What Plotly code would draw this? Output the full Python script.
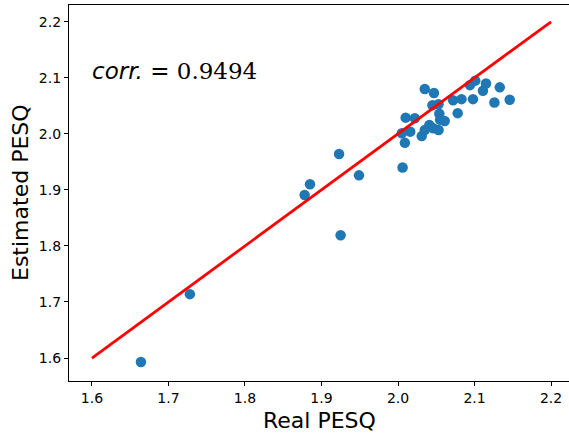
import plotly.graph_objects as go

real_pesq = [1.664, 1.728, 1.923, 1.885, 1.878, 1.949, 1.925, 2.006, 2.009,
             2.035, 2.047, 2.045, 2.053, 2.010, 2.022, 2.016, 2.005, 2.031,
             2.035, 2.041, 2.046, 2.054, 2.055, 2.061, 2.053, 2.072, 2.083,
             2.078, 2.098, 2.094, 2.101, 2.111, 2.115, 2.133, 2.126, 2.146]
est_pesq = [1.593, 1.714, 1.964, 1.910, 1.891, 1.926, 1.819, 1.940, 1.984,
            2.080, 2.073, 2.051, 2.053, 2.029, 2.028, 2.004, 2.001, 1.996,
            2.007, 2.016, 2.010, 2.036, 2.025, 2.023, 2.007, 2.060, 2.062,
            2.037, 2.062, 2.087, 2.095, 2.077, 2.090, 2.083, 2.056, 2.061]
fit_line = [1.6, 2.2]
corr_text = "0.9494"
ticks = [1.6, 1.7, 1.8, 1.9, 2.0, 2.1, 2.2]

fig = go.Figure()
fig.add_trace(go.Scatter(x=real_pesq, y=est_pesq, mode="markers",
                         marker=dict(color="#1f77b4", size=10.5, line=dict(width=0)),
                         showlegend=False))
fig.add_trace(go.Scatter(x=fit_line, y=fit_line, mode="lines",
                         line=dict(color="red", width=2.8), showlegend=False))

fig.add_annotation(x=0.042, y=0.825, xref="paper", yref="paper", xanchor="left", yanchor="middle",
                   showarrow=False,
                   text="<i>corr.</i> = <span style='font-family:DejaVu Serif'>" + corr_text + "</span>",
                   font=dict(family="DejaVu Sans", size=23, color="black"))

# axis titles placed as annotations for precise positioning
fig.add_annotation(x=-0.098, y=0.5, xref="paper", yref="paper", xanchor="center", yanchor="middle",
                   showarrow=False, textangle=-90, text="Estimated PESQ",
                   font=dict(family="DejaVu Sans", size=22, color="black"))
fig.add_annotation(x=0.5, y=-0.106, xref="paper", yref="paper", xanchor="center", yanchor="middle",
                   showarrow=False, text="Real PESQ",
                   font=dict(family="DejaVu Sans", size=22, color="black"))

axis_common = dict(showgrid=False, zeroline=False, showline=True, linecolor="black", linewidth=1.2,
                   mirror=True, ticks="outside", ticklen=4, tickcolor="black", automargin=False,
                   tickfont=dict(family="DejaVu Sans", size=14, color="black"),
                   tickvals=ticks, ticktext=[f"{t:.1f}" for t in ticks])

fig.update_xaxes(range=[1.570, 2.2235], **axis_common)
fig.update_yaxes(range=[1.559, 2.230], **axis_common)

fig.update_layout(width=569, height=434, margin=dict(l=69, r=0, t=5, b=53),
                  plot_bgcolor="white", paper_bgcolor="white")

fig.write_html("out.html", config={"displayModeBar": False},
               post_script="document.body.style.margin='0';")
